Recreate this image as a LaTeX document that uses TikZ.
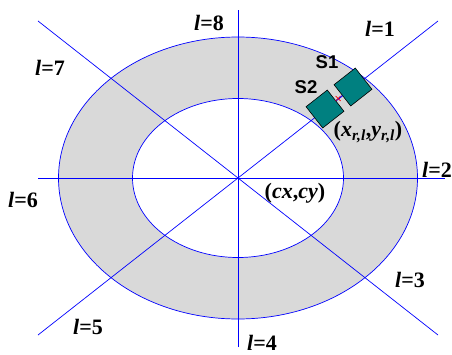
\documentclass[tikz,border=0pt]{standalone}
\usepackage{fontspec}
\setmainfont{Liberation Serif}
\setsansfont{Liberation Sans}
\definecolor{ringgray}{RGB}{217,217,217}
\definecolor{sensorteal}{RGB}{0,128,128}
\tikzset{
  axisline/.style={blue,line width=0.7pt},
  lbl/.style={font=\fontsize{22}{22}\selectfont\bfseries},
  sensor/.style={draw=black,fill=sensorteal,minimum size=27pt,inner sep=0pt,rotate=38.1,line width=0.6pt},
  sname/.style={font=\fontsize{18.5}{18.5}\selectfont\sffamily\bfseries}
}
\begin{document}
\begin{tikzpicture}[x=1pt,y=1pt]
\useasboundingbox (0,0) rectangle (452,354);
\coordinate (c) at (238,176);
% ring
\fill[ringgray] (c) ellipse (179.5 and 141);
\fill[white] (c) ellipse (105.5 and 79.5);
\draw[axisline] (c) ellipse (179.5 and 141);
\draw[axisline] (c) ellipse (105.5 and 79.5);
% lines l=1..8
\draw[axisline] (38,176) -- (445,176);
\draw[axisline] (238,7) -- (238,344);
\draw[axisline] (38,333) -- (438,19);
\draw[axisline] (38,19) -- (438,333);
% sensors
\node[sensor] (s1box) at (353,267) {};
\node[sensor] (s2box) at (325,245) {};
\draw[blue,line width=0.6pt] (s2box.east) -- (s1box.west);
\coordinate (m) at (338,255.5);
\draw[red,line width=0.7pt] ([shift={(-2.5,-2.5)}]m) -- ([shift={(2.5,2.5)}]m);
\draw[red,line width=0.7pt] ([shift={(-2.5,2.5)}]m) -- ([shift={(2.5,-2.5)}]m);
\node[sname] (s1) at (327,292) {S1};
\node[sname] (s2) at (306,267) {S2};
% labels
\node[lbl] (l1) at (380,325) {\textit{l}=1};
\node[lbl] (l2) at (437,184) {\textit{l}=2};
\node[lbl] (l3) at (410,74) {\textit{l}=3};
\node[lbl] (l4) at (262,11) {\textit{l}=4};
\node[lbl] (l5) at (88,27) {\textit{l}=5};
\node[lbl] (l6) at (23,154) {\textit{l}=6};
\node[lbl] (l7) at (50,286) {\textit{l}=7};
\node[lbl] (l8) at (209,331) {\textit{l}=8};
\node[lbl] (cxy) at (295,161) {(\textit{cx},\textit{cy})};
\node[lbl] (xy) at (368,222) {(\textit{x}\textsubscript{\textit{r,l}},\textit{y}\textsubscript{\textit{r,l}})};
\end{tikzpicture}
\end{document}
